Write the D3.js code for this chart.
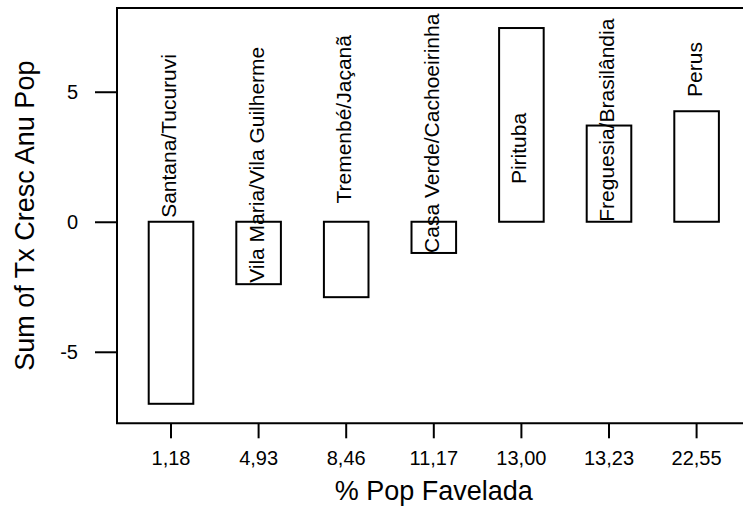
<!DOCTYPE html>
<html>
<head>
<meta charset="utf-8">
<script src="https://cdn.jsdelivr.net/npm/d3@7"></script>
<style>
  body { margin: 0; background: #fff; }
  svg { display: block; font-family: "Liberation Sans", Arial, sans-serif; }
</style>
</head>
<body>
<script>
// data
var districts = ["Santana/Tucuruvi", "Vila Maria/Vila Guilherme", "Tremenbé/Jaçanã",
                 "Casa Verde/Cachoeirinha", "Pirituba", "Freguesia/Brasilândia", "Perus"]
var favelaPct = ["1,18", "4,93", "8,46", "11,17", "13,00", "13,23", "22,55"]
var growth    = [-7.0, -2.4, -2.9, -1.2, 7.45, 3.7, 4.25]
// where each rotated label starts, in axis units
var labelAt   = [0.15, -2.35, 0.7, -1.2, 1.45, 0, 4.8]
var yTicks    = [-5, 0, 5]

var W = 743, H = 510
var plotL = 117, plotT = 8, plotB = 423.3, plotR = 750.6

var svg = d3.select("body").append("svg")
	.attr("width", W)
	.attr("height", H)

var x = d3.scaleBand()
	.domain(favelaPct)
	.range([plotL, plotR])
	.paddingInner(0.491)
	.paddingOuter(0.362)

var y = d3.scaleLinear()
	.domain([-7.75, 8.22])
	.range([plotB, plotT])

// frame (right side runs off the canvas)
svg.append("path")
	.attr("d", "M" + (W + 20) + "," + plotT + "H" + plotL + "V" + plotB + "H" + (W + 20))
	.attr("fill", "none")
	.attr("stroke", "#000")
	.attr("stroke-width", 2)

// y axis
var yAxis = svg.append("g")
	.attr("transform", "translate(" + plotL + ",0)")
	.call(d3.axisLeft(y).tickValues(yTicks).tickSize(22).tickPadding(17).tickFormat(String))
yAxis.select(".domain").remove()
yAxis.selectAll("line").attr("stroke-width", 2)
yAxis.selectAll("text").attr("font-size", 20).attr("font-family", null).attr("fill", "#000")

// x axis
var xAxis = svg.append("g")
	.attr("transform", "translate(0," + plotB + ")")
	.call(d3.axisBottom(x).tickSize(15).tickPadding(0))
xAxis.select(".domain").remove()
xAxis.selectAll("line").attr("stroke-width", 2)
xAxis.selectAll("text")
	.attr("font-size", 20).attr("font-family", null).attr("fill", "#000")
	.attr("y", 42).attr("dy", null)

// bars
var bars = d3.range(growth.length)
svg.selectAll("rect.bar")
	.data(bars)
	.enter().append("rect")
	.attr("class", "bar")
	.attr("x", function (i) { return x(favelaPct[i]) })
	.attr("width", x.bandwidth())
	.attr("y", function (i) { return y(Math.max(0, growth[i])) })
	.attr("height", function (i) { return Math.abs(y(growth[i]) - y(0)) })
	.attr("fill", "#fff")
	.attr("stroke", "#000")
	.attr("stroke-width", 2)

// rotated district labels
svg.selectAll("text.lbl")
	.data(bars)
	.enter().append("text")
	.attr("class", "lbl")
	.attr("transform", function (i) {
		var cx = x(favelaPct[i]) + x.bandwidth() / 2 + 5
		return "translate(" + cx + "," + y(labelAt[i]) + ") rotate(-90)"
	})
	.attr("font-size", 21)
	.attr("fill", "#000")
	.text(function (i) { return districts[i] })

// axis titles
svg.append("text")
	.attr("x", (plotL + plotR) / 2)
	.attr("y", 500)
	.attr("text-anchor", "middle")
	.attr("font-size", 27)
	.text("% Pop Favelada")

svg.append("text")
	.attr("transform", "translate(34," + (plotT + plotB) / 2 + ") rotate(-90)")
	.attr("text-anchor", "middle")
	.attr("font-size", 27)
	.text("Sum of Tx Cresc Anu Pop")
</script>
</body>
</html>
